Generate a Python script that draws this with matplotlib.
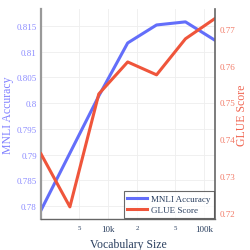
import matplotlib
matplotlib.use("Agg")
import matplotlib.pyplot as plt
from matplotlib.ticker import FixedLocator, FixedFormatter

# vocabulary sizes and scores
vocab = [2000, 4000, 8000, 16000, 32000, 64000, 128000]
mnli = [0.7792, 0.7903, 0.8014, 0.8117, 0.8152, 0.8158, 0.8123]
glue = [0.7360, 0.7216, 0.7523, 0.7610, 0.7575, 0.7673, 0.7727]

mnli_ticks = [0.78, 0.785, 0.79, 0.795, 0.8, 0.805, 0.81, 0.815]
mnli_labels = ["0.78", "0.785", "0.79", "0.795", "0.8", "0.805", "0.81", "0.815"]
glue_ticks = [0.72, 0.73, 0.74, 0.75, 0.76, 0.77]
glue_labels = ["0.72", "0.73", "0.74", "0.75", "0.76", "0.77"]
x_major = [10000, 100000]
x_major_labels = ["10k", "100k"]
x_minor = [5000, 20000, 50000]
x_minor_labels = ["5", "2", "5"]

blue = "#636efa"
red = "#ef553b"
plt.rcParams['font.family'] = ['Liberation Serif', 'DejaVu Serif']

fig = plt.figure(figsize=(2.51, 2.51), dpi=100)
ax = fig.add_axes([41 / 251, 31 / 251, 174 / 251, 210 / 251])
ax2 = ax.twinx()

l1, = ax.plot(vocab, mnli, color=blue, lw=2.2, label="MNLI Accuracy")
l2, = ax2.plot(vocab, glue, color=red, lw=2.2, label="GLUE Score")

ax.set_xscale("log")
ax.set_xlim(2000, 130000)
ax.set_ylim(0.7775, 0.8183)
ax2.set_ylim(0.7183, 0.7754)

ax.xaxis.set_major_locator(FixedLocator(x_major))
ax.xaxis.set_major_formatter(FixedFormatter(x_major_labels))
ax.xaxis.set_minor_locator(FixedLocator(x_minor))
ax.xaxis.set_minor_formatter(FixedFormatter(x_minor_labels))
ax.tick_params(axis="x", which="major", length=0, labelsize=6.5, colors="#2a3f5f", pad=4)
ax.tick_params(axis="x", which="minor", length=0, labelsize=5, colors="#2a3f5f", pad=4)

ax.set_yticks(mnli_ticks)
ax.set_yticklabels(mnli_labels)
ax.tick_params(axis="y", length=0, labelsize=6.5, colors="#8c8cff", pad=3)
ax2.set_yticks(glue_ticks)
ax2.set_yticklabels(glue_labels)
ax2.tick_params(axis="y", length=0, labelsize=6.5, colors="#f27b68", pad=3)

ax.grid(True, which="both", color="#eeeeee", lw=0.6)
ax.set_axisbelow(True)

ax.spines["top"].set_visible(False)
ax2.spines["top"].set_visible(False)
ax.spines["right"].set_visible(False)
ax2.spines["left"].set_visible(False)
ax2.spines["bottom"].set_visible(False)
ax.spines["left"].set_color("#999999")
ax.spines["left"].set_linewidth(1.6)
ax.spines["bottom"].set_color("#666666")
ax.spines["bottom"].set_linewidth(1.0)
ax2.spines["right"].set_color("#666666")
ax2.spines["right"].set_linewidth(1.2)

ax.set_xlabel("Vocabulary Size", fontsize=8.5, color="#2a3f5f", labelpad=4)
ax.set_ylabel("MNLI Accuracy", fontsize=8.5, color="#8080ff", labelpad=2)
ax2.set_ylabel("GLUE Score", fontsize=8.5, color="#f06450", labelpad=1)

leg = ax2.legend(handles=[l1, l2], loc="lower right", fontsize=6.5, frameon=True,
                 fancybox=False, borderaxespad=0.15, handlelength=2.2,
                 handletextpad=0.4, borderpad=0.4, labelspacing=0.3)
leg.get_frame().set_edgecolor("#444444")
leg.get_frame().set_linewidth(0.8)
for t in leg.get_texts():
    t.set_color("#2a3f5f")

fig.savefig("out.png", dpi=100)
